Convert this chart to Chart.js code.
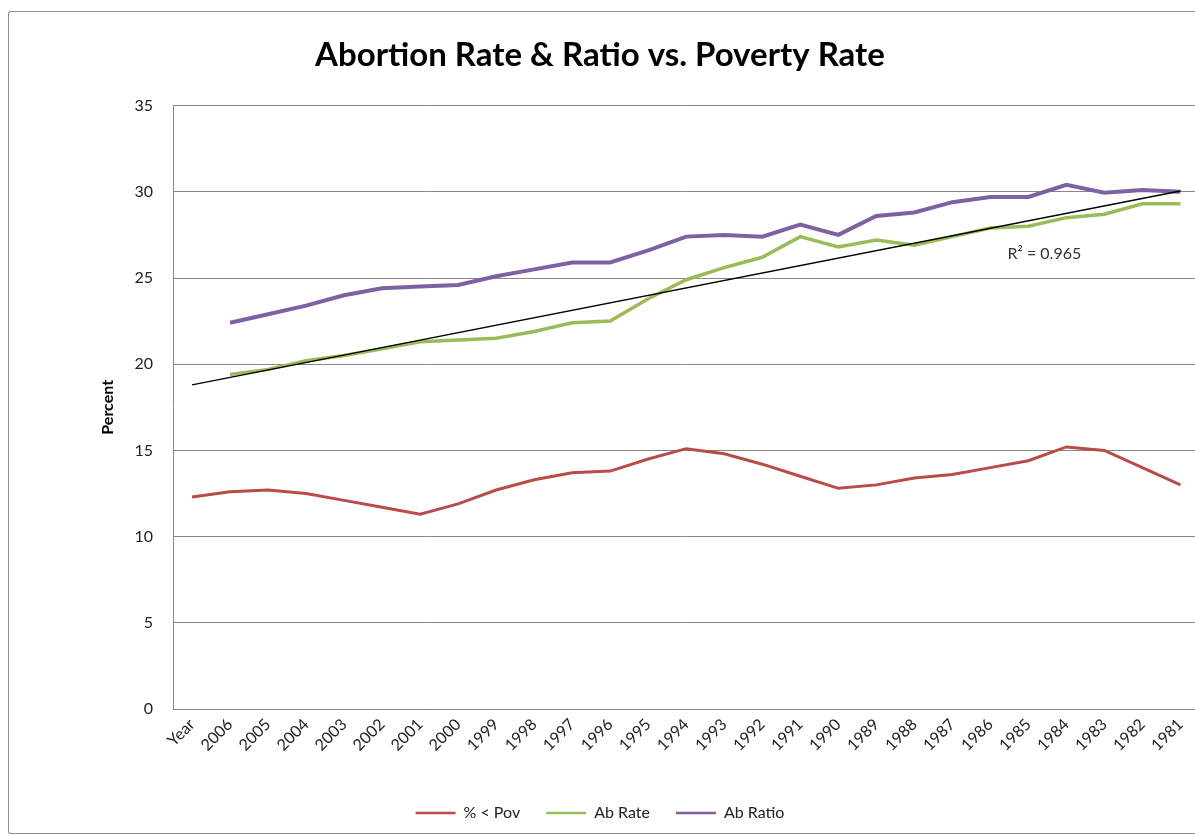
<!DOCTYPE html>
<html>
<head>
<meta charset="utf-8">
<title>Abortion Rate &amp; Ratio vs. Poverty Rate</title>
<script src="https://cdn.jsdelivr.net/npm/chart.js@4.4.1/dist/chart.umd.min.js"></script>
<style>
  html, body { margin: 0; padding: 0; background: #fff; overflow: hidden; }
  #stage { position: relative; width: 1195px; height: 836px; overflow: hidden; }
  #frame { position: absolute; left: 8px; top: 11px; width: 1300px; height: 821px;
           border: 1.5px solid #8e8e8e; border-right: none; border-radius: 3px 0 0 3px; }
  #wrap { position: absolute; left: 0; top: 0; width: 1200px; height: 836px; }
</style>
</head>
<body>
<div id="stage">
  <div id="frame"></div>
  <div id="wrap"><canvas id="chart" width="1200" height="836"></canvas></div>
</div>
<script>
// Category axis: header cell followed by years, newest first
const categories = ['Year', '2006', '2005', '2004', '2003', '2002', '2001', '2000', '1999', '1998',
  '1997', '1996', '1995', '1994', '1993', '1992', '1991', '1990', '1989', '1988',
  '1987', '1986', '1985', '1984', '1983', '1982', '1981'];

// Share of population below the poverty line (%)
const povertyRate = [12.3, 12.6, 12.7, 12.5, 12.1, 11.7, 11.3, 11.9, 12.7, 13.3,
  13.7, 13.8, 14.5, 15.1, 14.8, 14.2, 13.5, 12.8, 13.0, 13.4,
  13.6, 14.0, 14.4, 15.2, 15.0, 14.0, 13.0];

// Abortion rate
const abortionRate = [null, 19.4, 19.7, 20.2, 20.5, 20.9, 21.3, 21.4, 21.5, 21.9,
  22.4, 22.5, 23.8, 24.9, 25.6, 26.2, 27.4, 26.8, 27.2, 26.9,
  27.4, 27.9, 28.0, 28.5, 28.7, 29.3, 29.3];

// Abortion ratio
const abortionRatio = [null, 22.4, 22.9, 23.4, 24.0, 24.4, 24.5, 24.6, 25.1, 25.5,
  25.9, 25.9, 26.6, 27.4, 27.5, 27.4, 28.1, 27.5, 28.6, 28.8,
  29.4, 29.7, 29.7, 30.4, 29.95, 30.1, 30.0];

// Linear trend line: only its two end values, joined straight across
const trendLine = [18.8, null, null, null, null, null, null, null, null, null,
  null, null, null, null, null, null, null, null, null, null,
  null, null, null, null, null, null, 30.05];

const yTicks = [0, 5, 10, 15, 20, 25, 30, 35];
const fitLabel = 'R\u00B2 = 0.965';

const FONT = 'Lato, "Open Sans", "DejaVu Sans", sans-serif';
const RED = '#B94B48';
const GREEN = '#9BBB59';
const PURPLE = '#7D61A0';
const GRID = '#878787';

// Writes the R² value of the trend line beside it
const fitLabelPlugin = {
  id: 'fitLabel',
  afterDatasetsDraw(chart) {
    const { ctx, scales: { x, y } } = chart;
    const px = (x.getPixelForValue('1985') + x.getPixelForValue('1984')) / 2 - 3;
    const py = y.getPixelForValue(26.4);
    ctx.save();
    ctx.font = '16px ' + FONT;
    ctx.fillStyle = '#333333';
    ctx.textAlign = 'center';
    ctx.textBaseline = 'middle';
    ctx.fillText(fitLabel, px, py);
    ctx.restore();
  }
};

const lineSet = (label, data, color, width) => ({
  label, data,
  borderColor: color,
  backgroundColor: color,
  borderWidth: width,
  pointRadius: 0,
  pointHoverRadius: 0,
  tension: 0,
  fill: false,
  order: 1
});

new Chart(document.getElementById('chart'), {
  type: 'line',
  data: {
    labels: categories,
    datasets: [
      lineSet('% < Pov', povertyRate, RED, 3),
      lineSet('Ab Rate', abortionRate, GREEN, 3.5),
      lineSet('Ab Ratio', abortionRatio, PURPLE, 4),
      Object.assign(lineSet('Trend', trendLine, '#000000', 1.5), { spanGaps: true, order: 0 })
    ]
  },
  options: {
    responsive: false,
    animation: false,
    events: [],
    layout: { padding: { left: 0, right: 0, top: 0, bottom: 5 } },
    plugins: {
      title: {
        display: true,
        text: 'Abortion Rate & Ratio vs. Poverty Rate',
        color: '#000',
        font: { family: FONT, size: 33, weight: 'bold' },
        padding: { top: 36, bottom: 30 }
      },
      legend: {
        position: 'bottom',
        labels: {
          usePointStyle: true,
          pointStyle: 'line',
          pointStyleWidth: 40,
          padding: 26,
          color: '#222',
          font: { family: FONT, size: 16 },
          filter: item => item.datasetIndex < 3,
          generateLabels(chart) {
            const items = Chart.defaults.plugins.legend.labels.generateLabels(chart);
            items.forEach(it => { it.lineWidth = 2.5; });
            return items;
          }
        }
      },
      tooltip: { enabled: false }
    },
    scales: {
      x: {
        offset: true,
        grid: { display: false, drawTicks: false },
        border: { display: true, color: GRID, width: 1 },
        ticks: {
          autoSkip: false,
          minRotation: 45,
          maxRotation: 45,
          padding: 6,
          color: '#222',
          font: { family: FONT, size: 16 }
        },
        afterFit(scale) { scale.height = 70; }
      },
      y: {
        min: yTicks[0],
        max: yTicks[yTicks.length - 1],
        afterBuildTicks(scale) { scale.ticks = yTicks.map(v => ({ value: v })); },
        grid: { color: GRID, lineWidth: 1, drawTicks: false },
        border: { display: true, color: GRID, width: 1 },
        ticks: {
          padding: 20,
          color: '#222',
          font: { family: FONT, size: 16 }
        },
        title: {
          display: true,
          text: 'Percent',
          color: '#000',
          font: { family: FONT, size: 16, weight: 'bold' },
          padding: { top: 98, bottom: 0 }
        },
        afterFit(scale) { scale.width = 173; }
      }
    }
  },
  plugins: [fitLabelPlugin]
});
</script>
</body>
</html>
